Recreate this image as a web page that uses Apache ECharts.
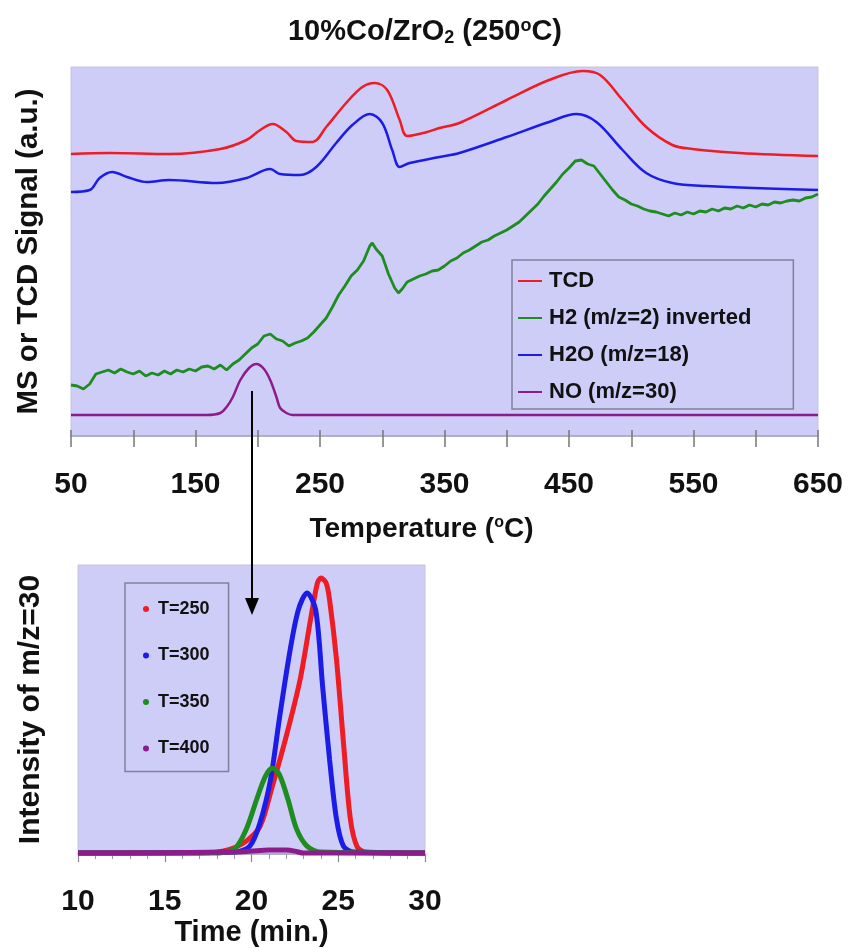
<!DOCTYPE html>
<html>
<head>
<meta charset="utf-8">
<script src="https://cdn.jsdelivr.net/npm/echarts@6/dist/echarts.min.js"></script>
<style>
  html, body { margin: 0; padding: 0; background: #fff; }
  #main { width: 850px; height: 948px; }
</style>
</head>
<body>
<div id="main"></div>
<script>
// top panel: temperature programmed run, signal in arbitrary units
const tcdT = [50, 81, 129, 170, 191, 202, 212, 223, 231, 244, 255, 271, 284, 294, 304, 314, 320, 336, 346, 362, 400, 434, 461, 475, 493, 512, 533, 549, 587, 650]
const tcdV = [282, 283, 282, 287, 296, 306, 312, 304, 295, 294, 309, 333, 349, 353, 346, 316, 300, 304, 308, 313, 336, 356, 365, 361, 336, 309, 291, 287, 283, 280]

const h2oT = [50, 65, 73, 83, 95, 111, 129, 167, 191, 210, 218, 234, 247, 263, 276, 290, 300, 308, 314, 322, 346, 362, 400, 434, 456, 472, 493, 512, 533, 560, 650]
const h2oV = [244, 246, 258, 264, 259, 254, 256, 253, 258, 267, 262, 261, 269, 293, 311, 322, 313, 286, 269, 273, 279, 283, 299, 314, 322, 314, 286, 263, 253, 250, 246]

const h2T = [50, 55, 60, 65, 70, 75, 80, 85, 90, 95, 100, 105, 110, 115, 120, 125, 130, 135, 140, 145,
  150, 155, 160, 165, 170, 175, 180, 185, 190, 195, 200, 205, 210, 215, 220, 225, 230, 235, 240, 245,
  250, 255, 260, 265, 270, 275, 280, 285, 290, 292, 295, 300, 305, 310, 313, 316, 320, 325, 330, 335,
  340, 345, 350, 355, 360, 365, 370, 375, 380, 385, 390, 395, 400, 405, 410, 415, 420, 425, 430, 435,
  440, 445, 450, 455, 460, 465, 470, 475, 480, 485, 490, 495, 500, 505, 510, 515, 520, 525, 530, 535,
  540, 545, 550, 555, 560, 565, 570, 575, 580, 585, 590, 595, 600, 605, 610, 615, 620, 625, 630, 635,
  640, 645, 650]
const h2V = [51, 50, 47, 52, 62, 64, 66, 63, 67, 64, 62, 65, 60, 63, 61, 65, 62, 66, 64, 67,
  65, 69, 70, 67, 71, 66, 72, 76, 82, 88, 92, 100, 102, 97, 95, 90, 93, 95, 98, 104,
  111, 118, 129, 141, 150, 160, 166, 175, 190, 193, 187, 180, 162, 148, 143, 147, 154, 157, 160, 162,
  165, 166, 170, 175, 178, 183, 186, 190, 194, 196, 200, 203, 206, 210, 214, 220, 226, 232, 240, 247,
  254, 262, 268, 275, 276, 272, 270, 262, 254, 246, 239, 236, 232, 230, 227, 225, 224, 222, 220, 223,
  221, 224, 222, 225, 224, 227, 225, 228, 227, 230, 228, 231, 229, 232, 231, 234, 233, 235, 236, 235,
  238, 239, 242]

const noT = [50, 159, 170, 175, 180, 186, 193, 199, 205, 210, 215, 218, 223, 228, 650]
const noV = [21, 21, 23, 29, 39, 56, 68, 72, 67, 56, 39, 28, 23, 21, 21]

const topNames = ['TCD', 'H2 (m/z=2) inverted', 'H2O (m/z=18)', 'NO (m/z=30)']
const tempTicks = [50, 150, 250, 350, 450, 550, 650]

// bottom panel: m/z=30 intensity vs time
const t250 = [10, 17, 18, 18.8, 19.7, 20.5, 21.2, 22.0, 22.8, 23.4, 23.8, 24.0, 24.3, 24.5, 24.9, 25.3, 25.7, 26.1, 26.6, 30]
const v250 = [1, 1, 2, 5, 13, 28, 68, 118, 175, 235, 272, 277, 272, 255, 195, 112, 35, 7, 2, 1]
const t300 = [10, 19.0, 19.9, 20.5, 21.1, 21.6, 22.2, 22.7, 23.2, 23.7, 24.1, 24.5, 24.9, 25.3, 25.9, 30]
const v300 = [1, 2, 8, 32, 75, 135, 202, 245, 262, 245, 168, 95, 35, 8, 2, 1]
const t350 = [10, 17.7, 19.0, 19.7, 20.3, 20.8, 21.2, 21.6, 22.1, 22.6, 23.2, 24.0, 30]
const v350 = [1, 1, 5, 25, 55, 78, 86, 80, 55, 25, 8, 2, 1]
const t400 = [10, 19, 20, 21, 22, 22.5, 23, 30]
const v400 = [1, 2, 3, 4, 4, 3, 1, 1]

const bottomNames = ['T=250', 'T=300', 'T=350', 'T=400']

const RED = '#ee1c24'
const GREEN = '#1e8c1e'
const BLUE = '#1c1ce6'
const PURPLE = '#8c1c8c'
const PLOT_BG = '#cdcdf8'
const FONT = 'Liberation Sans, Arial, sans-serif'

function zip (xs, ys) {
  return xs.map((x, i) => [x, ys[i]])
}

const chart = echarts.init(document.getElementById('main'))

chart.setOption({
  backgroundColor: '#fff',
  animation: false,
  title: {
    left: 'center',
    top: 12,
    text: '{a|10%Co/ZrO}{sub|2}{a| (250}{sup|o}{a|C)}',
    textStyle: {
      rich: {
        a: { fontFamily: FONT, fontWeight: 'bold', fontSize: 29, color: '#111' },
        sub: { fontFamily: FONT, fontWeight: 'bold', fontSize: 18, color: '#111', padding: [12, 0, 0, 0] },
        sup: { fontFamily: FONT, fontWeight: 'bold', fontSize: 18, color: '#111', padding: [0, 0, 12, 0] }
      }
    }
  },
  legend: [{
    data: topNames,
    orient: 'vertical',
    left: 512,
    top: 260,
    padding: [10, 42, 6, 6],
    itemGap: 15,
    itemWidth: 24,
    itemHeight: 2,
    icon: 'rect',
    borderColor: '#80809a',
    borderWidth: 1.5,
    textStyle: { fontFamily: FONT, fontWeight: 'bold', fontSize: 22, color: '#111', padding: [0, 0, 0, 2] }
  }, {
    data: bottomNames,
    orient: 'vertical',
    left: 125,
    top: 583,
    padding: [17, 19, 14, 18],
    itemGap: 28.5,
    itemWidth: 6,
    itemHeight: 6,
    icon: 'circle',
    borderColor: '#80809a',
    borderWidth: 1.5,
    textStyle: { fontFamily: FONT, fontWeight: 'bold', fontSize: 18, color: '#111', padding: [0, 0, 0, 4] }
  }],
  grid: [{
    left: 71, top: 67, width: 747, height: 369,
    show: true, backgroundColor: PLOT_BG, borderColor: '#c4c4dc', borderWidth: 1
  }, {
    left: 78, top: 565, width: 347, height: 290,
    show: true, backgroundColor: PLOT_BG, borderColor: '#c4c4dc', borderWidth: 1
  }],
  xAxis: [{
    gridIndex: 0,
    type: 'value',
    min: 50, max: 650, interval: 50,
    name: '{a|Temperature (}{sup|o}{a|C)}',
    nameLocation: 'middle',
    nameGap: 79,
    nameTextStyle: {
      padding: [0, 46, 0, 0],
      rich: {
        a: { fontFamily: FONT, fontWeight: 'bold', fontSize: 28, color: '#111' },
        sup: { fontFamily: FONT, fontWeight: 'bold', fontSize: 16, color: '#111', padding: [0, 0, 12, 0] }
      }
    },
    axisLine: { lineStyle: { color: '#a2a2bc', width: 1.5 } },
    axisTick: { inside: false, length: 11, lineStyle: { color: '#777', width: 1.5 } },
    splitLine: { show: false },
    axisLabel: {
      margin: 34,
      fontFamily: FONT, fontWeight: 'bold', fontSize: 30, color: '#111',
      formatter: v => tempTicks.includes(v) ? String(v) : ''
    }
  }, {
    // upper half of the crossing tick marks
    gridIndex: 0,
    type: 'value',
    position: 'bottom',
    min: 50, max: 650, interval: 50,
    axisLine: { show: false },
    axisTick: { inside: true, length: 6, lineStyle: { color: '#777', width: 1.5 } },
    axisLabel: { show: false },
    splitLine: { show: false }
  }, {
    gridIndex: 1,
    type: 'value',
    min: 10, max: 30, interval: 5,
    name: 'Time (min.)',
    nameLocation: 'middle',
    nameGap: 63,
    nameTextStyle: { fontFamily: FONT, fontWeight: 'bold', fontSize: 29, color: '#111' },
    axisLine: { lineStyle: { color: '#a2a2bc', width: 1.5 } },
    axisTick: { length: 8, lineStyle: { color: '#888', width: 1.2 } },
    minorTick: { show: true, splitNumber: 5, length: 5, lineStyle: { color: '#999', width: 1 } },
    splitLine: { show: false },
    axisLabel: { margin: 33, fontFamily: FONT, fontWeight: 'bold', fontSize: 30, color: '#111' }
  }],
  yAxis: [{
    gridIndex: 0,
    type: 'value',
    min: 0, max: 369,
    name: 'MS or TCD Signal (a.u.)',
    nameLocation: 'middle',
    nameGap: 27,
    nameTextStyle: { fontFamily: FONT, fontWeight: 'bold', fontSize: 29.5, color: '#111' },
    axisLine: { show: false },
    axisTick: { show: false },
    axisLabel: { show: false },
    splitLine: { show: false }
  }, {
    gridIndex: 1,
    type: 'value',
    min: 0, max: 290,
    name: 'Intensity of m/z=30',
    nameLocation: 'middle',
    nameGap: 32,
    nameTextStyle: { fontFamily: FONT, fontWeight: 'bold', fontSize: 30, color: '#111' },
    axisLine: { show: false },
    axisTick: { show: false },
    axisLabel: { show: false },
    splitLine: { show: false }
  }],
  series: [
    { name: 'TCD', type: 'line', xAxisIndex: 0, yAxisIndex: 0, data: zip(tcdT, tcdV), smooth: 0.35, showSymbol: false, color: RED, lineStyle: { width: 2.5 } },
    { name: 'H2 (m/z=2) inverted', type: 'line', xAxisIndex: 0, yAxisIndex: 0, data: zip(h2T, h2V), showSymbol: false, color: GREEN, lineStyle: { width: 2.8 } },
    { name: 'H2O (m/z=18)', type: 'line', xAxisIndex: 0, yAxisIndex: 0, data: zip(h2oT, h2oV), smooth: 0.35, showSymbol: false, color: BLUE, lineStyle: { width: 2.5 } },
    { name: 'NO (m/z=30)', type: 'line', xAxisIndex: 0, yAxisIndex: 0, data: zip(noT, noV), smooth: 0.35, showSymbol: false, color: PURPLE, lineStyle: { width: 2.5 } },

    { name: 'T=250', type: 'line', xAxisIndex: 2, yAxisIndex: 1, data: zip(t250, v250), smooth: 0.3, showSymbol: false, color: RED, lineStyle: { width: 5 } },
    { name: 'T=300', type: 'line', xAxisIndex: 2, yAxisIndex: 1, data: zip(t300, v300), smooth: 0.3, showSymbol: false, color: BLUE, lineStyle: { width: 5 } },
    { name: 'T=350', type: 'line', xAxisIndex: 2, yAxisIndex: 1, data: zip(t350, v350), smooth: 0.3, showSymbol: false, color: GREEN, lineStyle: { width: 5 } },
    { name: 'T=400', type: 'line', xAxisIndex: 2, yAxisIndex: 1, data: zip(t400, v400), smooth: 0.3, showSymbol: false, color: PURPLE, lineStyle: { width: 5 } }
  ],
  graphic: [{
    type: 'line',
    z: 100,
    shape: { x1: 252, y1: 391, x2: 252, y2: 603 },
    style: { stroke: '#000', lineWidth: 2 }
  }, {
    type: 'polygon',
    z: 100,
    shape: { points: [[245, 598], [259, 598], [252, 615]] },
    style: { fill: '#000' }
  }]
})
</script>
</body>
</html>
